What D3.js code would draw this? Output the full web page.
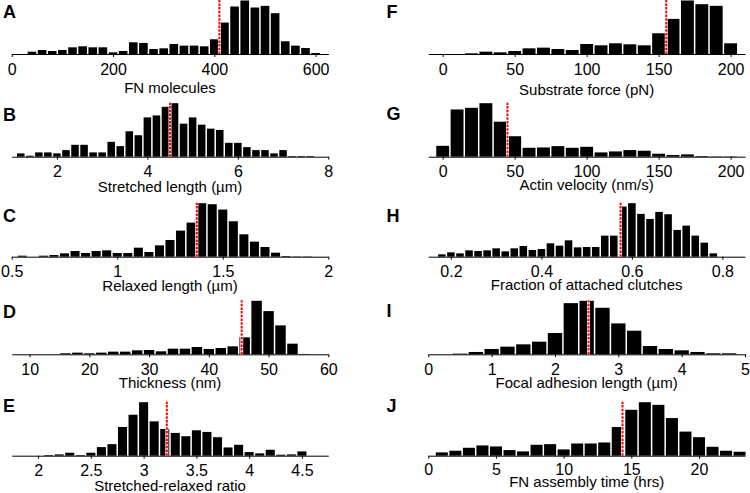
<!DOCTYPE html>
<html>
<head>
<meta charset="utf-8">
<script src="https://cdn.jsdelivr.net/npm/d3@7"></script>
<style>
body{margin:0;background:#fff;}
text{font-family:"Liberation Sans",Arial,Helvetica,sans-serif;fill:#000;}
</style>
</head>
<body>
<svg width="750" height="493"></svg>
<script>
// bin centres + bar heights (heights in arbitrary count units)
var fnBins=[40,60,80,100,120,140,160,180,200,220,240,260,280,300,320,340,360,380,400,420,440,460,480,500,520,540,560,580,600];
var fnCounts=[7,12,9,12,20,23,20,20,5,9,35,33,15,17,30,25,25,23,44,94,142,160,139,144,122,38,25,18,3];

var strBins=[1.2,1.4,1.6,1.8,2.0,2.2,2.4,2.6,2.8,3.0,3.2,3.4,3.6,3.8,4.0,4.2,4.4,4.6,4.8,5.0,5.2,5.4,5.6,5.8,6.0,6.2,6.4,6.6,6.8,7.0,7.2,7.4,7.6];
var strCounts=[10,3,13,13,10,20,36,36,13,13,45,32,77,65,119,125,151,162,100,119,97,85,81,42,42,29,20,20,10,20,2,2,2];

var relBins=[0.55,0.6,0.65,0.7,0.75,0.8,0.85,0.9,0.95,1.0,1.05,1.1,1.15,1.2,1.25,1.3,1.35,1.4,1.45,1.5,1.55,1.6,1.65,1.7,1.75,1.8,1.85,1.9];
var relCounts=[3,0,3,5,10,17,11,17,19,11,11,27,14,34,50,78,102,160,157,141,106,67,45,29,12,2,1,1];

var thkBins=[16,18,20,22,24,26,28,30,32,34,36,38,40,42,44,46,48,50,52,54,56];
var thkCounts=[3,5,3,5,8,8,12,13,9,17,17,22,16,19,24,51,161,130,87,32,1];

var ratBins=[2.1,2.2,2.3,2.4,2.5,2.6,2.7,2.8,2.9,3.0,3.1,3.2,3.3,3.4,3.5,3.6,3.7,3.8,3.9,4.0,4.1,4.2,4.3,4.4,4.5];
var ratCounts=[2,4,9,2,9,26,35,87,124,162,104,81,69,59,77,72,56,25,33,11,7,18,3,4,13];

var forceBins=[20,30,40,50,60,70,80,90,100,110,120,130,140,150,160,170,180,190,200];
var forceCounts=[2,7,5,9,17,19,15,12,30,26,32,29,26,62,105,160,149,144,32];

var velBins=[0,10,20,30,40,50,60,70,80,90,100,110,120,130,140,150,160,170,180,190,200];
var velCounts=[33,143,148,162,106,62,27,28,32,27,30,13,16,20,18,9,5,7,2,1,1];

var clBins=[0.18,0.2,0.22,0.24,0.26,0.28,0.3,0.32,0.34,0.36,0.38,0.4,0.42,0.44,0.46,0.48,0.5,0.52,0.54,0.56,0.58,0.6,0.62,0.64,0.66,0.68,0.7,0.72,0.74,0.76,0.78];
var clCounts=[7,13,10,19,17,19,25,16,25,32,20,23,40,33,49,28,29,29,63,63,150,160,128,113,134,127,80,93,63,42,10];

var faBins=[0.5,0.75,1.0,1.25,1.5,1.75,2.0,2.25,2.5,2.75,3.0,3.25,3.5,3.75,4.0,4.25,4.5,4.75];
var faCounts=[2,7,16,23,30,38,64,154,161,140,93,71,25,16,12,7,3,3];

var timeBins=[1,2,3,4,5,6,7,8,9,10,11,12,13,14,15,16,17,18,19,20,21,22,23];
var timeCounts=[10,15,24,31,28,17,13,33,35,19,37,37,40,87,139,162,154,114,73,56,27,15,12];

// ticks, axis ranges, mean (red dotted line)
var letters=["A","B","C","D","E","F","G","H","I","J"];
var titles=["FN molecules","Stretched length (\u00b5m)","Relaxed length (\u00b5m)","Thickness (nm)","Stretched-relaxed ratio",
  "Substrate force (pN)","Actin velocity (nm/s)","Fraction of attached clutches","Focal adhesion length (\u00b5m)","FN assembly time (hrs)"];
var tickVals=[[0,200,400,600],[2,4,6,8],[0.5,1,1.5,2],[10,20,30,40,50,60],[2,2.5,3,3.5,4,4.5],
  [0,50,100,150,200],[0,50,100,150,200],[0.2,0.4,0.6,0.8],[0,1,2,3,4,5],[0,5,10,15,20]];
var domains=[[0,625],[1,8],[0.5,2],[7,60],[1.75,4.75],[-10,210],[-10,210],[0.15,0.85],[0,5],[0,23.4]];
var binWidths=[20,0.2,0.05,2,0.1,10,10,0.02,0.25,1];
var means=[410,4.5,1.377,45.5,3.22,155.3,45,0.575,2.53,14.35];
var allBins=[fnBins,strBins,relBins,thkBins,ratBins,forceBins,velBins,clBins,faBins,timeBins];
var allCounts=[fnCounts,strCounts,relCounts,thkCounts,ratCounts,forceCounts,velCounts,clCounts,faCounts,timeCounts];

// layout
var colX=[[11.7,328.3],[428.3,745]];
var letterX=[3,386.5];
var baseY=[54,156.7,256.7,354.3,455.7];
var letterY=[18,121,222,318,412,18,120,221.5,317,412];
var titleY=[93,192,291,388,491,95,190,290,388,487];
var tickY=[20.5,20.5,20.5,20.5,20.5,20.5,20.5,20.5,20.5,19.5];
var plotH=53.5;

var svg=d3.select("svg");

for(var i=0;i<10;i++){
  var col=i<5?0:1, row=i%5;
  var base=baseY[row];
  var x=d3.scaleLinear().domain(domains[i]).range(colX[col]);
  var y=d3.scaleLinear().domain([0,d3.max(allCounts[i])]).range([base,base-plotH]);
  var g=svg.append("g");
  var bw=binWidths[i];
  var step=x(bw)-x(0);
  var data=allBins[i].map(function(b,k){return {c:b,n:allCounts[i][k]};});

  g.selectAll("rect").data(data).enter().append("rect")
    .attr("x",function(d){return x(d.c-bw/2)+0.75;})
    .attr("width",step-1.5)
    .attr("y",function(d){return y(d.n);})
    .attr("height",function(d){return base-y(d.n);})
    .attr("fill","#000");

  var ax=g.append("g").attr("transform","translate(0,"+base+")")
    .call(d3.axisBottom(x).tickValues(tickVals[i]).tickFormat(function(d){return String(d);})
      .tickSize(3).tickSizeOuter(0));
  ax.attr("font-family",null).attr("font-size",null);
  ax.select(".domain").attr("stroke","#000").attr("stroke-width",1);
  ax.selectAll(".tick line").attr("stroke","#000");
  ax.selectAll(".tick text").attr("font-size","16px").attr("dy",null).attr("y",tickY[i]);

  // mean line
  g.append("line").attr("x1",x(means[i])).attr("x2",x(means[i]))
    .attr("y1",base).attr("y2",base-plotH-0.5)
    .attr("stroke","#fff").attr("stroke-width",3);
  g.append("line").attr("x1",x(means[i])).attr("x2",x(means[i]))
    .attr("y1",base).attr("y2",base-plotH-0.5)
    .attr("stroke","#f00").attr("stroke-width",2).attr("stroke-dasharray","2.5,1.2");

  g.append("text").attr("x",(colX[col][0]+colX[col][1])/2).attr("y",titleY[i])
    .attr("text-anchor","middle").attr("font-size","15px").text(titles[i]);
  g.append("text").attr("x",letterX[col]).attr("y",letterY[i])
    .attr("font-size","18px").attr("font-weight","bold").text(letters[i]);
}
</script>
</body>
</html>
